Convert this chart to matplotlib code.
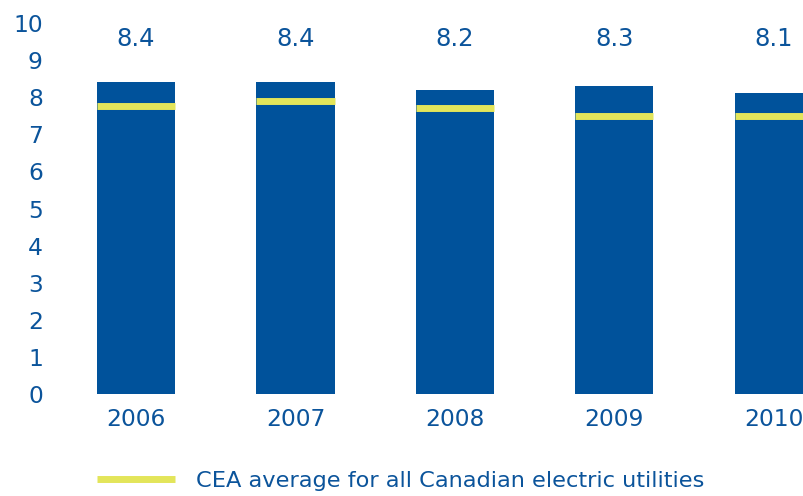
import matplotlib.pyplot as plt
from matplotlib.lines import Line2D

plt.rcParams['font.family'] = ['DejaVu Sans']

years = ['2006', '2007', '2008', '2009', '2010']
values = [8.4, 8.4, 8.2, 8.3, 8.1]
cea_average = [7.75, 7.91, 7.70, 7.48, 7.48]

blue = '#00529b'
yellow = '#e3e55a'
text_blue = '#0b549b'

fig = plt.figure(figsize=(8.04, 4.96), dpi=100)
ax = fig.add_axes([97 / 804, 102 / 496, 707 / 804, 394 / 496])

x = list(range(len(years)))
width = 0.49
ax.bar(x, values, width=width, color=blue, zorder=2)
ax.hlines(cea_average, [i - width / 2 for i in x], [i + width / 2 for i in x],
          colors=yellow, linewidth=5.0, zorder=3)

# value above each bar, all on one row
for i, v in zip(x, values):
    ax.text(i, 9.58, f'{v:.1f}', ha='center', va='center',
            fontsize=17.5, color=text_blue)

ax.set_xlim(-width / 2, 4.19)
ax.set_ylim(0, 10.62)
ax.set_yticks(range(0, 11))
ax.set_xticks(x)
ax.set_xticklabels(years)
ax.tick_params(axis='both', length=0, labelsize=16.8, labelcolor=text_blue)
ax.tick_params(axis='y', pad=39)
ax.tick_params(axis='x', pad=10)
for s in ax.spines.values():
    s.set_visible(False)

handle = Line2D([], [], color=yellow, linewidth=5.0, solid_capstyle='butt')
fig.legend([handle], ['CEA average for all Canadian electric utilities'],
           loc='center left', bbox_to_anchor=(97 / 804, 1 - 481 / 496),
           frameon=False, borderpad=0, borderaxespad=0,
           handlelength=3.47, handletextpad=0.93,
           prop={'size': 16.2}, labelcolor=text_blue)

fig.savefig('out.png', dpi=100)
